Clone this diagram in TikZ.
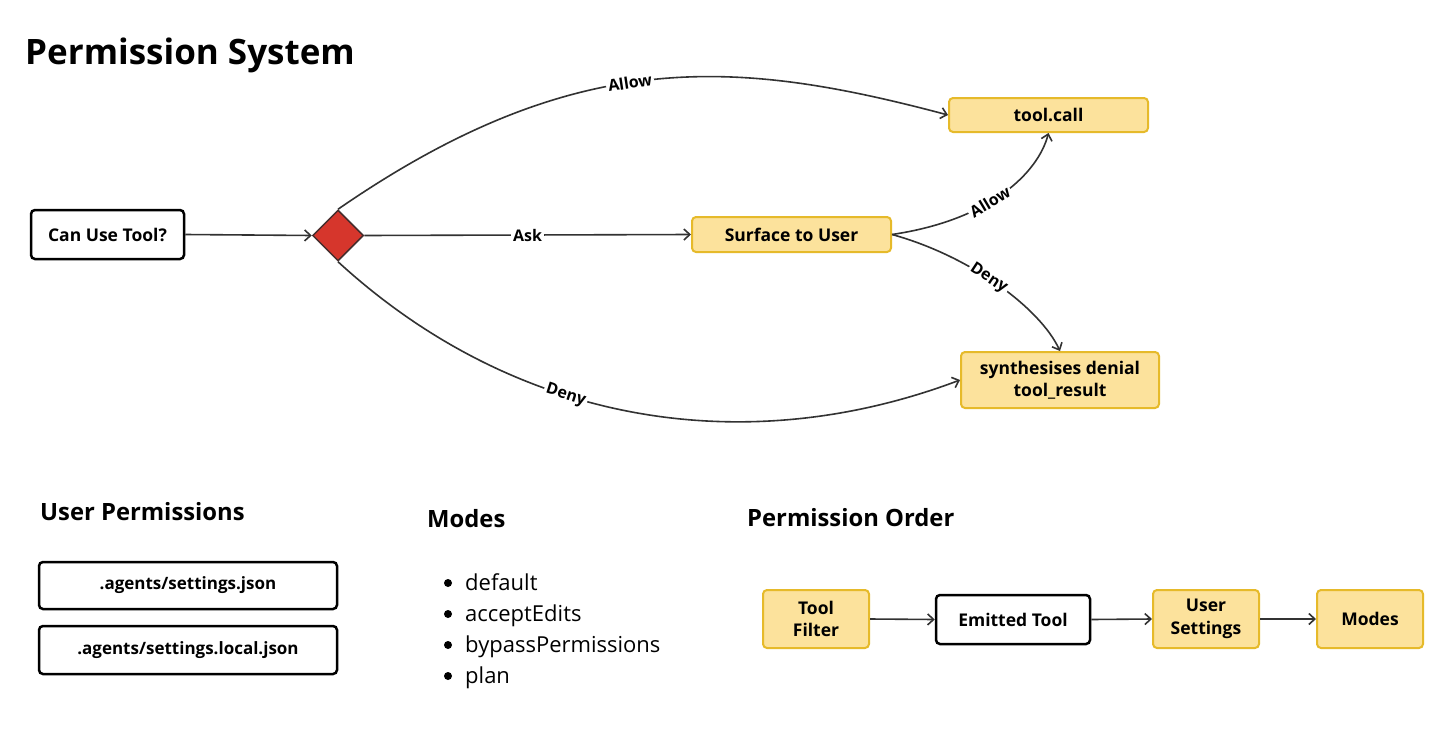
\documentclass[tikz,border=0pt]{standalone}
\usepackage{fontspec}
\setmainfont{Open Sans}
\usetikzlibrary{shapes.geometric,arrows.meta}
\definecolor{yfill}{RGB}{252,226,156}
\definecolor{yborder}{RGB}{230,186,42}
\definecolor{dred}{RGB}{214,54,44}
\definecolor{dborder}{RGB}{70,45,45}
\definecolor{edgec}{RGB}{50,50,50}
\tikzset{
  wbox/.style={draw=black, fill=white, line width=2.5pt, rounded corners=4pt, inner sep=0pt, align=center, font=\fontsize{17.5}{22}\selectfont\bfseries},
  ybox/.style={draw=yborder, fill=yfill, line width=2pt, rounded corners=4pt, inner sep=0pt, align=center, font=\fontsize{17.5}{22.5}\selectfont\bfseries},
  fbox/.style={draw=black, fill=white, line width=2.5pt, rounded corners=4pt, inner sep=0pt, align=center, font=\fontsize{17}{20}\selectfont\bfseries},
  edge/.style={draw=edgec, line width=1.6pt, -{Straight Barb[length=6pt,width=11pt,line width=1.6pt]}},
  lbl/.style={fill=white, inner sep=2pt, font=\fontsize{16}{18}\selectfont\bfseries, text=black},
  heading/.style={anchor=base west, inner sep=0pt, font=\fontsize{23.8}{28}\selectfont\bfseries},
  item/.style={anchor=base west, inner sep=0pt, font=\fontsize{22}{26}\selectfont},
}
\begin{document}
\begin{tikzpicture}[x=1pt,y=1pt]
\useasboundingbox[fill=white] (0,0) rectangle (1456,-728);
% title
\node[anchor=base west, inner sep=0pt, font=\fontsize{35}{40}\selectfont\bfseries] (title) at (25,-64) {Permission System};
% main flow
\node[wbox, minimum width=153pt, minimum height=49pt] (cut) at (107.5,-234.5) {Can Use Tool?};
\node[diamond, aspect=1, fill=dred, draw=dborder, line width=1.5pt, minimum width=51pt, minimum height=51pt, inner sep=0pt] (dia) at (338,-235.5) {};
\node[ybox, minimum width=199pt, minimum height=35pt] (surf) at (791.5,-234.5) {Surface to User};
\node[ybox, minimum width=199pt, minimum height=34pt] (tc) at (1048.5,-115) {tool.call};
\node[ybox, minimum width=198pt, minimum height=56pt] (syn) at (1060,-380) {synthesises denial\\tool\_result};
\draw[edge] (cut.east) -- (dia.west);
\draw[edge] (dia.east) -- node[lbl]{Ask} (surf.west);
\draw[edge] (dia.north) .. controls (576,-45) and (737,-59) .. node[lbl, sloped, pos=0.46]{Allow} (tc.west);
\draw[edge] (dia.south) .. controls (516,-425) and (745,-461) .. node[lbl, sloped, pos=0.39]{Deny} (syn.west);
\draw[edge] (surf.east) .. controls (990,-220) and (1038,-173) .. node[lbl, sloped, pos=0.42]{Allow} (tc.south);
\draw[edge] (surf.east) .. controls (970,-256) and (1040,-308) .. node[lbl, sloped, pos=0.45]{Deny} (syn.north);
% User permissions
\node[heading] (uph) at (40,-520) {User Permissions};
\node[fbox, minimum width=298pt, minimum height=47pt] (p1) at (188,-585.5) {.agents/settings.json};
\node[fbox, minimum width=298pt, minimum height=48pt] (p2) at (188,-650) {.agents/settings.local.json};
% Modes
\node[heading] (mh) at (427,-527) {Modes};
\fill (448,-583) circle (4);
\fill (448,-614) circle (4);
\fill (448,-645) circle (4);
\fill (448,-676) circle (4);
\node[item] (m1) at (465,-590) {default};
\node[item] (m2) at (465,-621) {acceptEdits};
\node[item] (m3) at (465,-652) {bypassPermissions};
\node[item] (m4) at (465,-683) {plan};
% Permission order
\node[heading] (poh) at (747,-526) {Permission Order};
\node[ybox, minimum width=106pt, minimum height=58pt] (tf) at (816,-619) {Tool\\Filter};
\node[wbox, minimum width=154pt, minimum height=49pt] (et) at (1013,-619.5) {Emitted Tool};
\node[ybox, minimum width=106pt, minimum height=58pt] (us) at (1206,-619) {User\\Settings};
\node[ybox, minimum width=106pt, minimum height=58pt] (mo) at (1370,-619) {Modes};
\draw[edge] (tf.east) -- (et.west);
\draw[edge] (et.east) -- (us.west);
\draw[edge] (us.east) -- (mo.west);
\end{tikzpicture}
\end{document}
